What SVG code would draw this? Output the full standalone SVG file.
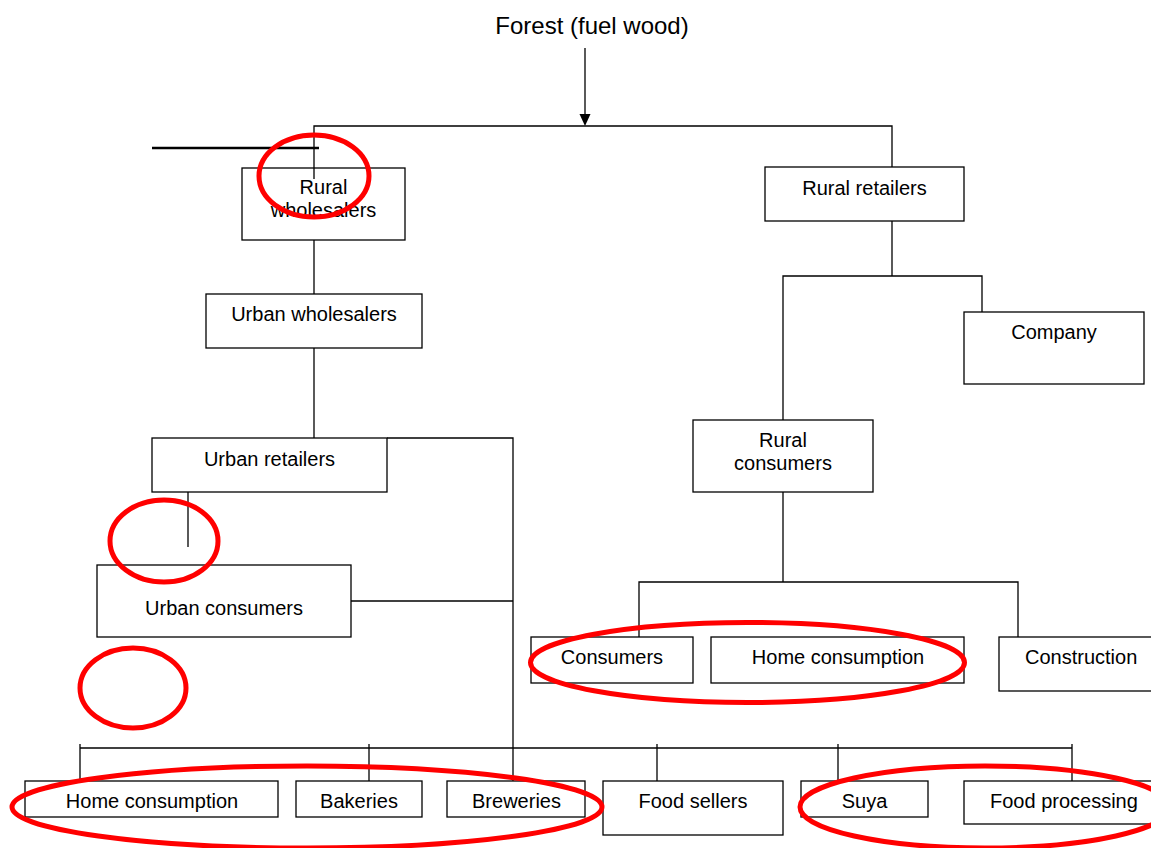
<svg xmlns="http://www.w3.org/2000/svg" width="1151" height="848" viewBox="0 0 1151 848">
<style>
.box{fill:#fff;stroke:#000;stroke-width:1.3}
.t{font-family:"Liberation Sans",Arial,sans-serif;font-size:20px;fill:#000;text-anchor:middle}
.ts{font-family:"Liberation Sans",Arial,sans-serif;font-size:20px;fill:#000}
.title{font-family:"Liberation Sans",Arial,sans-serif;font-size:24px;fill:#000;text-anchor:middle}
.conn{stroke:#000;stroke-width:1.3;fill:none}
.mark{fill:none;stroke:#ff0000;stroke-width:5}
</style>
<rect width="1151" height="848" fill="#fff"/>
<g id="forest"><text class="title" x="592" y="34">Forest (fuel wood)</text></g>
<g id="rural-wholesalers"><rect class="box" x="242" y="168" width="163" height="72"/><text class="t" x="323.5" y="194">Rural</text><text class="t" x="323.5" y="217">wholesalers</text></g>
<g id="rural-retailers"><rect class="box" x="765" y="167" width="199" height="54"/><text class="t" x="864.5" y="195">Rural retailers</text></g>
<g id="urban-wholesalers"><rect class="box" x="206" y="294" width="216" height="54"/><text class="t" x="314" y="321">Urban wholesalers</text></g>
<g id="company"><rect class="box" x="964" y="312" width="180" height="72"/><text class="t" x="1054" y="339">Company</text></g>
<g id="urban-retailers"><rect class="box" x="152" y="438" width="235" height="54"/><text class="t" x="269.5" y="466">Urban retailers</text></g>
<g id="rural-consumers"><rect class="box" x="693" y="420" width="180" height="72"/><text class="t" x="783" y="447">Rural</text><text class="t" x="783" y="470">consumers</text></g>
<g id="urban-consumers"><rect class="box" x="97" y="565" width="254" height="72"/><text class="t" x="224" y="615">Urban consumers</text></g>
<g id="consumers"><rect class="box" x="531" y="637" width="162" height="46"/><text class="t" x="612" y="664">Consumers</text></g>
<g id="home-consumption-rural"><rect class="box" x="711" y="637" width="253" height="46"/><text class="t" x="838" y="664">Home consumption</text></g>
<g id="construction"><rect class="box" x="999" y="637" width="170" height="54"/><text class="ts" x="1025" y="664">Construction</text></g>
<g id="home-consumption"><rect class="box" x="25" y="781" width="253" height="36"/><text class="t" x="152" y="808">Home consumption</text></g>
<g id="bakeries"><rect class="box" x="296" y="781" width="126" height="36"/><text class="t" x="359" y="808">Bakeries</text></g>
<g id="breweries"><rect class="box" x="447" y="781" width="138" height="36"/><text class="t" x="516.5" y="808">Breweries</text></g>
<g id="food-sellers"><rect class="box" x="603" y="781" width="180" height="54"/><text class="t" x="693" y="808">Food sellers</text></g>
<g id="suya"><rect class="box" x="801" y="781" width="127" height="36"/><text class="t" x="864.5" y="808">Suya</text></g>
<g id="food-processing"><rect class="box" x="964" y="781" width="200" height="43"/><text class="ts" x="990" y="808">Food processing</text></g>
<g id="connectors">
<line class="conn" x1="585" y1="48" x2="585" y2="115"/>
<polygon points="579.5,114 590.5,114 585,126" fill="#000"/>
<polyline class="conn" points="314,179 314,126 892,126 892,167"/>
<line x1="152" y1="148" x2="319" y2="148" stroke="#000" stroke-width="2.6"/>
<line class="conn" x1="314" y1="240" x2="314" y2="294"/>
<line class="conn" x1="314" y1="348" x2="314" y2="438"/>
<polyline class="conn" points="387,438 513,438 513,781"/>
<line class="conn" x1="351" y1="601" x2="513" y2="601"/>
<line class="conn" x1="188" y1="492" x2="188" y2="547"/>
<line class="conn" x1="892" y1="221" x2="892" y2="276"/>
<polyline class="conn" points="783,420 783,276 982,276 982,312"/>
<line class="conn" x1="783" y1="492" x2="783" y2="582"/>
<polyline class="conn" points="639,637 639,582 1018,582 1018,637"/>
<line class="conn" x1="80" y1="748" x2="1072" y2="748"/>
<line class="conn" x1="80" y1="744" x2="80" y2="781"/>
<line class="conn" x1="369" y1="744" x2="369" y2="781"/>
<line class="conn" x1="657" y1="744" x2="657" y2="781"/>
<line class="conn" x1="838" y1="744" x2="838" y2="781"/>
<line class="conn" x1="1072" y1="744" x2="1072" y2="781"/>
</g>
<g id="annotations">
<ellipse class="mark" cx="314" cy="176" rx="55" ry="41"/>
<ellipse class="mark" cx="164" cy="541" rx="54" ry="41"/>
<ellipse class="mark" cx="133" cy="688" rx="53" ry="40"/>
<ellipse class="mark" cx="747.5" cy="662.5" rx="217" ry="40"/>
<ellipse class="mark" cx="307" cy="807" rx="295" ry="41"/>
<ellipse class="mark" cx="985" cy="807" rx="185" ry="41"/>
</g>
</svg>
